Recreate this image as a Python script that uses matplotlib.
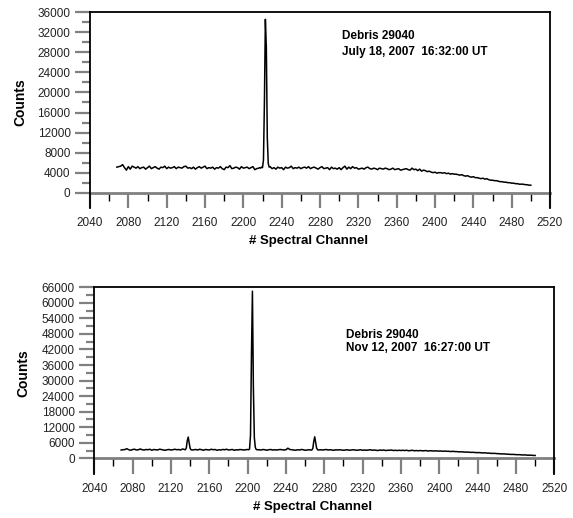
import numpy as np
from matplotlib import pyplot as plt
from matplotlib.ticker import MultipleLocator

plt.rcParams['font.family'] = ['Liberation Sans', 'DejaVu Sans']

# 上图: July 18, 2007 (每2个通道一个点, 峰值处每1个通道)
jul_start_a = 2068
jul_counts_a = [5100, 5200, 5300, 5600, 5000, 4500, 5200, 4700, 5300, 5100, 4900, 5200, 4800, 5000, 5100, 4700,
                5000, 5300, 4800, 5000, 5200, 4900, 4700, 5100, 5000, 5300, 4800, 5100, 4900, 5000, 5200,
                4800, 5100, 5000, 4900, 5200, 5300, 4900, 5000, 4800, 5100, 4700, 5000, 5200, 4900, 5100,
                5300, 4800, 5000, 4900, 5100, 4700, 5000, 4900, 5200, 4800, 4600, 5100, 5000, 5400, 4800,
                4900, 5100, 5000, 4700, 5200, 4900, 5000, 5100, 4800, 5000, 5200, 4600, 4800, 4900]
jul_peak_start = 2217
jul_peak = [5000, 4900, 5100, 5000, 6500, 18000, 34600, 29000, 11000, 5800, 5100]
jul_start_b = 2228
jul_counts_b = [5200, 4800, 5000, 4700, 5100, 4900, 5000, 4600, 5100, 4900, 5000, 5300, 4800, 5000, 4900, 5100, 4800,
                5000, 5100, 4900, 5200, 4800, 5000, 5100, 4900, 4700, 5000, 5200, 4800, 4900, 5000, 4600, 5100, 4800, 4900, 4700, 5000,
                4600, 5000, 5300, 4700, 5100, 4800, 5200, 4900, 5000, 4700, 4800, 4900, 4700, 5000, 5100, 4800, 4700, 4900, 4800, 4600,
                4900, 4800, 4700, 4900, 4800, 4600, 4700, 4900, 4600, 4700, 4800, 4500, 4600, 4700, 4800, 4600, 4500, 4900, 4600, 4700,
                4400, 4700, 4300, 4500, 4400, 4200, 4300, 4100, 4000, 4100, 3900, 4000, 4000, 3900, 4000, 3800, 3900, 3700, 3800, 3700,
                3700, 3600, 3500, 3600, 3400, 3300, 3400, 3200, 3100, 3200, 3000, 3000, 2900, 2800, 2900, 2700, 2800, 2600, 2500, 2500,
                2400, 2400, 2300, 2200, 2200, 2100, 2100, 2000, 2000, 1900, 1900, 1800, 1800, 1700, 1700, 1700, 1600, 1600, 1500, 1500]

# 下图: Nov 12, 2007
nov_starts = [2068, 2135, 2144, 2201, 2212, 2267, 2276]
nov_steps = [2, 1, 2, 1, 2, 1, 2]
nov_segments = [
    [3200, 3300, 3400, 3700, 3300, 3100, 3400, 3500, 3200, 3300, 3600, 3300, 3200, 3400, 3300, 3500, 3100,
     3400, 3300, 3200, 3500, 3400, 3200, 3100, 3300, 3400, 3200, 3300, 3500, 3300, 3400, 3200, 3600, 3400],
    [3300, 4000, 6800, 8200, 6000, 3800, 3300, 3200],
    [3300, 3400, 3200, 3500, 3300, 3100, 3400, 3300, 3200, 3500, 3300, 3400, 3100, 3300, 3200, 3400, 3300,
     3500, 3200, 3300, 3400, 3100, 3300, 3200, 3400, 3300, 3200, 3300, 3400],
    [3300, 3600, 9000, 40000, 64500, 27000, 8000, 4200, 3400, 3300],
    [3300, 3200, 3400, 3300, 3100, 3300, 3400, 3200, 3300, 3200, 3300, 3400, 3300, 3200, 3300, 3900, 3400,
     3300, 3200, 3100, 3300, 3200, 3400, 3300, 3100, 3200, 3300, 3200],
    [3200, 3800, 6500, 8300, 6200, 3900, 3300, 3200],
    [3300, 3200, 3300, 3400, 3200, 3300, 3200, 3100, 3300, 3200, 3300, 3200, 3100, 3200, 3300, 3100, 3200, 3300, 3200, 3100, 3200, 3300, 3100,
     3200, 3100, 3200, 3300, 3100, 3200, 3100, 3000, 3200, 3100, 3200, 3000, 3100, 3100, 3200, 3000, 3100, 3000, 3100, 3000,
     3100, 3000, 3100, 2900, 3000, 3100, 2900, 3000, 2900, 3000, 2900, 2900, 3000, 2800, 2900, 2900, 2800, 2900, 2800, 2800,
     2800, 2700, 2800, 2700, 2700, 2600, 2700, 2600, 2600, 2500, 2500, 2500, 2400, 2400, 2400, 2300, 2300, 2300, 2200, 2200,
     2200, 2100, 2100, 2100, 2000, 2000, 1900, 1900, 1900, 1800, 1800, 1700, 1700, 1700, 1600, 1600, 1500, 1500, 1500, 1400,
     1400, 1400, 1300, 1300, 1300, 1200, 1200, 1200, 1100, 1100],
]

jul_text = ["Debris 29040", "July 18, 2007  16:32:00 UT"]
nov_text = ["Debris 29040", "Nov 12, 2007  16:27:00 UT"]

# 拼接通道
jul_x = np.concatenate([jul_start_a + 2 * np.arange(len(jul_counts_a)),
                        jul_peak_start + np.arange(len(jul_peak)),
                        jul_start_b + 2 * np.arange(len(jul_counts_b))])
jul_y = np.array(jul_counts_a + jul_peak + jul_counts_b)

nov_x = np.concatenate([s + st * np.arange(len(seg)) for s, st, seg in zip(nov_starts, nov_steps, nov_segments)])
nov_y = np.concatenate([np.array(seg) for seg in nov_segments])

W, H = 573, 518
fig = plt.figure(figsize=(W / 100, H / 100), dpi=100)


def make_axes(left, right, top, zero, bottom, ymax, ystep, xs, ys, text, text_y, ylab_x):
    ax = fig.add_axes([left / W, 1 - bottom / H, (right - left) / W, (bottom - top) / H])
    ext = ymax * (bottom - zero) / (zero - top)
    ax.plot(xs, ys, color='black', lw=1.1)
    ax.set_xlim(2040, 2520)
    ax.set_ylim(-ext, ymax)
    ax.xaxis.set_major_locator(MultipleLocator(40))
    ax.xaxis.set_minor_locator(MultipleLocator(20))
    ax.set_yticks(np.arange(0, ymax + 1, ystep))
    ax.set_yticks(np.arange(ystep / 2, ymax, ystep), minor=True)
    ax.yaxis.set_ticks_position('left')
    ax.xaxis.set_ticks_position('bottom')
    ax.spines['bottom'].set_position(('data', 0))
    ax.spines['bottom'].set_color('#808080')
    ax.spines['bottom'].set_linewidth(2)
    for s in ['top', 'left', 'right']:
        ax.spines[s].set_linewidth(1.3)
        ax.spines[s].set_zorder(3)
    tick_pt = (bottom - zero) * 0.72
    ax.tick_params(axis='x', which='major', direction='out', length=tick_pt, width=1.6,
                   color='#808080', pad=6.5, labelsize=8.5, labelcolor='#222222')
    ax.tick_params(axis='x', which='minor', direction='out', length=5.5, width=1.0, color='black')
    ax.tick_params(axis='y', which='major', direction='out', length=10.5, width=1.6,
                   color='#808080', pad=3.5, labelsize=8.5, labelcolor='#222222')
    ax.tick_params(axis='y', which='minor', direction='out', length=5.5, width=1.6, color='#808080')
    ax.set_xlabel('# Spectral Channel', fontsize=9.5, fontweight='bold')
    ax.xaxis.set_label_coords(0.475, -27 / (bottom - top))
    ax.set_ylabel('Counts', fontsize=10, fontweight='bold')
    ax.yaxis.set_label_coords((ylab_x - left) / (right - left), (bottom - (zero + top) / 2) / (bottom - top))
    for t, ty in zip(text, text_y):
        ax.text(2303, ty, t, fontsize=8.5, fontweight='bold', va='center', ha='left')
    return ax


make_axes(90, 550, 12.3, 192.7, 208, 36000, 4000, jul_x, jul_y, jul_text, [31300, 28000], 27)
make_axes(94.3, 554.3, 287.3, 458.3, 474.3, 66000, 6000, nov_x, nov_y, nov_text, [47600, 42500], 30)

plt.savefig('out.png', dpi=100)
